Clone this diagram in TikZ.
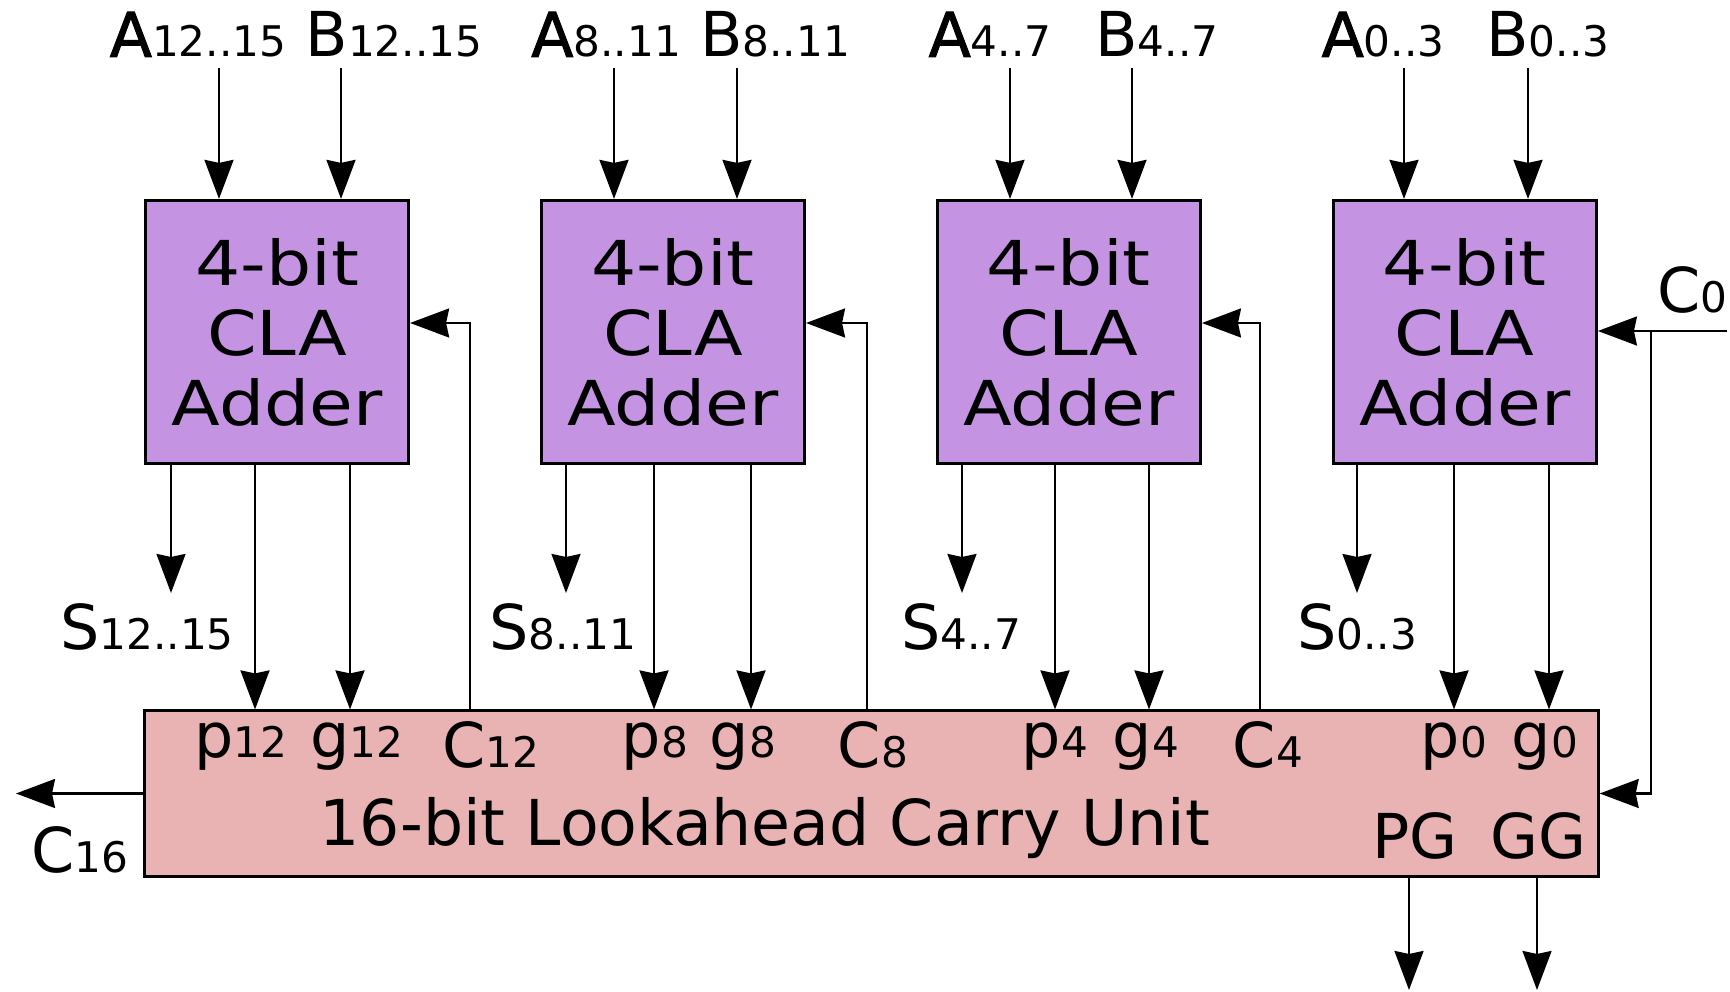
\documentclass[tikz,border=0pt]{standalone}
\usepackage{fontspec}
\setmainfont{DejaVu Sans}
\newfontfamily\adderfont[FakeStretch=1.15]{DejaVu Sans}
\newfontfamily\heavyfont[FakeBold=1.6]{DejaVu Sans}
\usepackage{tikz}
\usetikzlibrary{
  arrows.meta,  % Stealth 箭头样式
  calc,         % 坐标计算
  positioning   % 节点相对定位
}
\definecolor{adderfill}{RGB}{196,148,226}
\definecolor{lcufill}{RGB}{234,179,179}
% 主字母加小号下标（同一基线）
\newcommand{\sig}[2]{#1{\fontsize{12}{12}\selectfont #2}}

\begin{document}
\begin{tikzpicture}[>={Stealth[length=3.9mm, width=2.9mm, inset=0.3mm]}, x=0.01cm, y=0.01cm,
  adder/.style={draw, line width=0.8pt, fill=adderfill, align=center, inner sep=0pt,
    minimum width=2.632cm, minimum height=2.632cm,
    font=\adderfont\fontsize{17.6}{19.9}\selectfont},
  lcu/.style={draw, line width=0.8pt, fill=lcufill, inner sep=0pt,
    minimum width=14.527cm, minimum height=1.652cm},
  txt/.style={inner sep=0pt, anchor=base, font=\fontsize{17.6}{20}\selectfont},
  wire/.style={line width=0.6pt}]
  \useasboundingbox (0,0) rectangle (1730,-992);

  % 四个 4 位 CLA 加法器
  \node[adder] (add12) at (277,-332) {4-bit\\CLA\\Adder};
  \node[adder, right=1.297cm of add12] (add8) {4-bit\\CLA\\Adder};
  \node[adder, right=1.297cm of add8] (add4) {4-bit\\CLA\\Adder};
  \node[adder, right=1.297cm of add4] (add0) {4-bit\\CLA\\Adder};

  % 16 位超前进位单元
  \node[lcu] (lcu) at (871.5,-793.5) {};
  \node[txt, font=\fontsize{18}{20}\selectfont] (title) at (765,-846) {16-bit Lookahead Carry Unit};
  \node[txt] (pg) at (1415,-859) {PG};
  \node[txt] (gg) at (1538,-859) {GG};

  % 顶部输入 A、B
  \node[txt] (la12) at (198,-57) {\sig{{\heavyfont A}}{12..15}};
  \node[txt] (lb12) at (394,-57) {\sig{B}{12..15}};
  \node[txt] (la8) at (606,-57) {\sig{{\heavyfont A}}{8..11}};
  \node[txt] (lb8) at (775,-57) {\sig{B}{8..11}};
  \node[txt] (la4) at (990,-57) {\sig{{\heavyfont A}}{4..7}};
  \node[txt] (lb4) at (1157,-57) {\sig{B}{4..7}};
  \node[txt] (la0) at (1383,-57) {\sig{{\heavyfont A}}{0..3}};
  \node[txt] (lb0) at (1548,-57) {\sig{B}{0..3}};
  \coordinate (a12) at (219,-68);  \coordinate (b12) at (341,-68);
  \coordinate (a8) at (614,-68);   \coordinate (b8) at (737,-68);
  \coordinate (a4) at (1010,-68);  \coordinate (b4) at (1132,-68);
  \coordinate (a0) at (1404,-68);  \coordinate (b0) at (1528,-68);
  \draw[wire,->] (a12) -- (a12 |- add12.north);
  \draw[wire,->] (b12) -- (b12 |- add12.north);
  \draw[wire,->] (a8) -- (a8 |- add8.north);
  \draw[wire,->] (b8) -- (b8 |- add8.north);
  \draw[wire,->] (a4) -- (a4 |- add4.north);
  \draw[wire,->] (b4) -- (b4 |- add4.north);
  \draw[wire,->] (a0) -- (a0 |- add0.north);
  \draw[wire,->] (b0) -- (b0 |- add0.north);

  % 和输出 S
  \coordinate (s12) at (171,-593);
  \coordinate (s8) at (566,-593);
  \coordinate (s4) at (962,-593);
  \coordinate (s0) at (1357,-593);
  \draw[wire,->] (s12 |- add12.south) -- (s12);
  \draw[wire,->] (s8 |- add8.south) -- (s8);
  \draw[wire,->] (s4 |- add4.south) -- (s4);
  \draw[wire,->] (s0 |- add0.south) -- (s0);
  \node[txt] (ls12) at (147,-650) {\sig{S}{12..15}};
  \node[txt] (ls8) at (563,-650) {\sig{S}{8..11}};
  \node[txt] (ls4) at (961,-650) {\sig{S}{4..7}};
  \node[txt] (ls0) at (1357,-650) {\sig{S}{0..3}};

  % 传播 p 与生成 g
  \coordinate (p12) at (255,-709);  \coordinate (g12) at (350,-709);
  \coordinate (p8) at (654,-709);   \coordinate (g8) at (751,-709);
  \coordinate (p4) at (1055,-709);  \coordinate (g4) at (1149,-709);
  \coordinate (p0) at (1454,-709);  \coordinate (g0) at (1549,-709);
  \draw[wire,->] (p12 |- add12.south) -- (p12 |- lcu.north);
  \draw[wire,->] (g12 |- add12.south) -- (g12 |- lcu.north);
  \draw[wire,->] (p8 |- add8.south) -- (p8 |- lcu.north);
  \draw[wire,->] (g8 |- add8.south) -- (g8 |- lcu.north);
  \draw[wire,->] (p4 |- add4.south) -- (p4 |- lcu.north);
  \draw[wire,->] (g4 |- add4.south) -- (g4 |- lcu.north);
  \draw[wire,->] (p0 |- add0.south) -- (p0 |- lcu.north);
  \draw[wire,->] (g0 |- add0.south) -- (g0 |- lcu.north);
  \node[txt] (lp12) at (241,-758) {\sig{p}{12}};
  \node[txt] (lg12) at (357,-758) {\sig{g}{12}};
  \node[txt] (lp8) at (655,-758) {\sig{p}{8}};
  \node[txt] (lg8) at (743,-758) {\sig{g}{8}};
  \node[txt] (lp4) at (1055,-758) {\sig{p}{4}};
  \node[txt] (lg4) at (1146,-758) {\sig{g}{4}};
  \node[txt] (lp0) at (1454,-758) {\sig{p}{0}};
  \node[txt] (lg0) at (1545,-758) {\sig{g}{0}};

  % 进位 C 回送到加法器
  \coordinate (c12) at (470,-323);
  \coordinate (c8) at (867,-323);
  \coordinate (c4) at (1260,-323);
  \draw[wire,->] (c12 |- lcu.north) -- (c12) -- (c12 -| add12.east);
  \draw[wire,->] (c8 |- lcu.north) -- (c8) -- (c8 -| add8.east);
  \draw[wire,->] (c4 |- lcu.north) -- (c4) -- (c4 -| add4.east);
  \node[txt] (lc12) at (491,-768) {\sig{C}{12}};
  \node[txt] (lc8) at (873,-768) {\sig{C}{8}};
  \node[txt] (lc4) at (1268,-768) {\sig{C}{4}};

  % 进位输入 C0
  \coordinate (c0) at (1727,-331);
  \coordinate (c0j) at (1651,-331);
  \node[txt, anchor=base east] (lc0) at (1728,-313) {\sig{C}{0}};
  \draw[wire,->] (c0) -- (c0 -| add0.east);
  \draw[wire,->] (c0j) |- (lcu.east);

  % 进位输出 C16
  \coordinate (c16) at (16,-794);
  \draw[wire,->] (lcu.west) -- (lcu.west -| c16);
  \node[txt] (lc16) at (80,-873) {\sig{C}{16}};

  % PG、GG 输出
  \coordinate (pgout) at (1409,-990);
  \coordinate (ggout) at (1537,-990);
  \draw[wire,->] (pgout |- lcu.south) -- (pgout);
  \draw[wire,->] (ggout |- lcu.south) -- (ggout);
\end{tikzpicture}
\end{document}
